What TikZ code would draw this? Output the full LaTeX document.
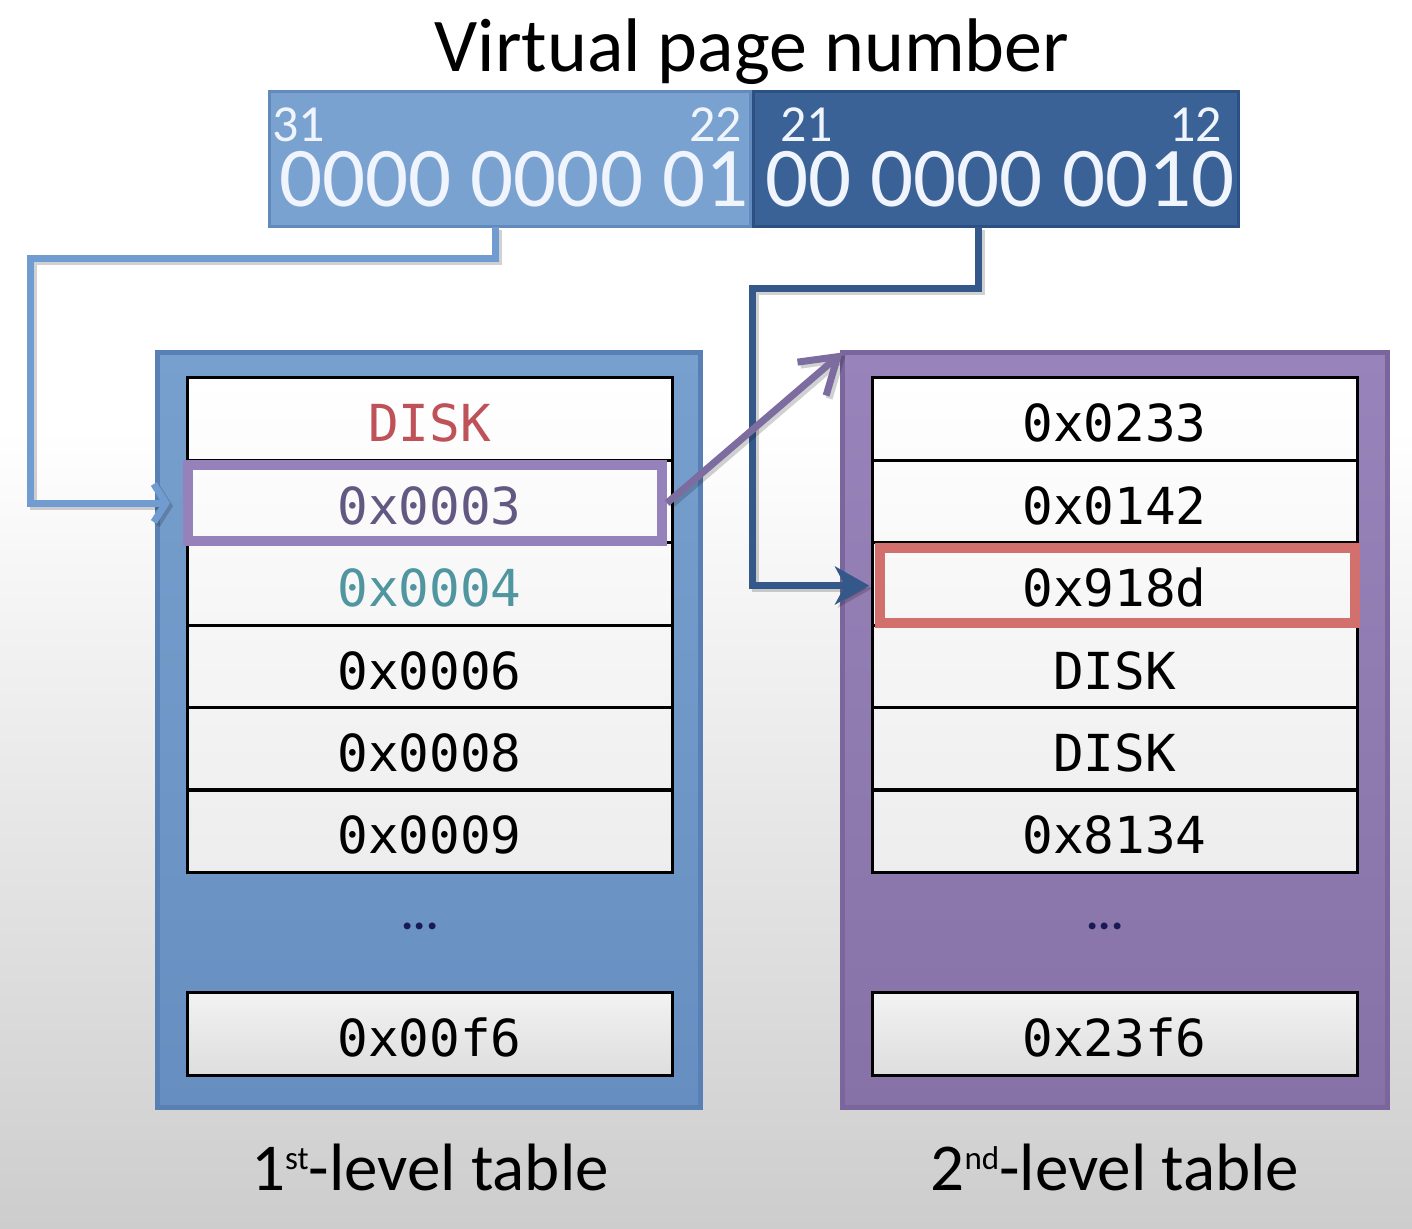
\documentclass[tikz,border=0pt]{standalone}
\usepackage{fontspec}
\setmainfont{Carlito}
\newfontfamily\monofont{DejaVu Sans Mono}
\usetikzlibrary{arrows.meta,calc}
\definecolor{bgbot}{RGB}{205,205,205}
\definecolor{hifill}{RGB}{122,162,208}
\definecolor{hidraw}{RGB}{98,138,188}
\definecolor{lofill}{RGB}{58,98,150}
\definecolor{lodraw}{RGB}{45,80,130}
\definecolor{bitwhite}{RGB}{240,244,252}
\definecolor{tonetop}{RGB}{120,160,206}
\definecolor{tonebot}{RGB}{102,142,192}
\definecolor{tonedraw}{RGB}{88,128,180}
\definecolor{ttwotop}{RGB}{152,132,186}
\definecolor{ttwobot}{RGB}{134,114,166}
\definecolor{ttwodraw}{RGB}{122,102,156}
\definecolor{hlpurple}{RGB}{150,130,186}
\definecolor{hlred}{RGB}{210,112,110}
\definecolor{diskred}{RGB}{190,82,88}
\definecolor{txtpurple}{RGB}{98,88,130}
\definecolor{txtteal}{RGB}{80,150,160}
\definecolor{connlight}{RGB}{112,156,210}
\definecolor{conndark}{RGB}{52,88,138}
\definecolor{connpurple}{RGB}{124,108,160}
\definecolor{dotnavy}{RGB}{25,25,85}
\begin{document}
\begin{tikzpicture}[x=1pt,y=-1pt,
  entry/.style={draw=black, line width=3pt, minimum width=485pt, minimum height=82.3pt,
    inner sep=0pt, outer sep=0pt, text height=45pt, text depth=0pt,
    font=\monofont\fontsize{51}{55}\selectfont},
  tablebox/.style={line width=5pt, inner sep=0pt, outer sep=0pt},
  hlbox/.style={line width=10pt, inner sep=0pt, outer sep=0pt},
  smallnum/.style={inner sep=0pt, text=bitwhite, font=\fontsize{52}{55}\selectfont},
  bignum/.style={inner sep=0pt, text=bitwhite, font=\fontsize{85}{88}\selectfont},
  dots/.style={inner sep=0pt, text=dotnavy, font=\bfseries\fontsize{46}{50}\selectfont},
  caption/.style={inner sep=0pt, font=\fontsize{67}{70}\selectfont},
  conn/.style={line width=7pt, line join=miter},
  shadowed/.style={black, opacity=0.18, transform canvas={xshift=3pt,yshift=-3pt}},
  tipbarb/.style={-{Straight Barb[length=12pt,width=38pt]}},
  tipsolid/.style={-{Stealth[length=34pt,width=38pt,inset=10pt]}},
  tipopen/.style={-{Straight Barb[length=34pt,width=44pt]}}
]
\useasboundingbox (0,0) rectangle (1412,1228);
\fill[white] (0,0) rectangle (1412,1228);
\shade[top color=white, bottom color=bgbot] (0,430) rectangle (1412,1228);

% title
\node[inner sep=0pt, anchor=base, font=\fontsize{76}{80}\selectfont] (title) at (752,72) {Virtual page number};

% virtual page number bar
\node[fill=hifill, draw=hidraw, line width=3pt, inner sep=0pt, outer sep=0pt,
      minimum width=481pt, minimum height=135pt] (hi) at (510,159) {};
\node[fill=lofill, draw=lodraw, line width=3pt, inner sep=0pt, outer sep=0pt,
      minimum width=485pt, minimum height=135pt] (lo) at (996,159) {};
\node[smallnum, anchor=base west] (b31) at (272,141) {31};
\node[smallnum, anchor=base east] (b22) at (742,141) {22};
\node[smallnum, anchor=base west] (b21) at (780,141) {21};
\node[smallnum, anchor=base east] (b12) at (1222,141) {12};
\node[bignum, anchor=base west] (bitshi) at (279,206) {0000 0000 01};
\node[bignum, anchor=base west] (bitslo) at (765,206) {00 0000 0010};

% tables
\node[tablebox, draw=tonedraw, top color=tonetop, bottom color=tonebot,
      minimum width=543pt, minimum height=755pt] (t1) at (429,730) {};
\node[tablebox, draw=ttwodraw, top color=ttwotop, bottom color=ttwobot,
      minimum width=545pt, minimum height=755pt] (t2) at (1115,730) {};

% row backgrounds
\shade[top color=white, bottom color=black!7] (187,378) rectangle (672,872);
\shade[top color=black!5, bottom color=black!13] (187,992) rectangle (672,1075);
\shade[top color=white, bottom color=black!7] (872,378) rectangle (1357,872);
\shade[top color=black!5, bottom color=black!13] (872,992) rectangle (1357,1075);

% first-level entries
\node[entry, text=diskred] (a1) at (429.5,419) {DISK};
\node[entry, text=txtpurple] (a2) at (429.5,501.5) {0x0003};
\node[entry, text=txtteal] (a3) at (429.5,584) {0x0004};
\node[entry] (a4) at (429.5,666.5) {0x0006};
\node[entry] (a5) at (429.5,749) {0x0008};
\node[entry] (a6) at (429.5,831) {0x0009};
\node[dots] (adots) at (420,926) {...};
\node[entry, minimum height=83pt] (a7) at (429.5,1033.5) {0x00f6};

% second-level entries
\node[entry] (b1) at (1114.5,419) {0x0233};
\node[entry] (b2) at (1114.5,501.5) {0x0142};
\node[entry] (b3) at (1114.5,584) {0x918d};
\node[entry] (b4) at (1114.5,666.5) {DISK};
\node[entry] (b5) at (1114.5,749) {DISK};
\node[entry] (b6) at (1114.5,831) {0x8134};
\node[dots] (bdots) at (1105,926) {...};
\node[entry, minimum height=83pt] (b7) at (1114.5,1033.5) {0x23f6};

% highlights
\node[hlbox, draw=hlpurple, minimum width=474pt, minimum height=76pt] (hl1) at (425,503) {};
\node[hlbox, draw=hlred, minimum width=475pt, minimum height=75pt] (hl2) at (1117.5,585.5) {};

% connectors (soft shadows first)
\draw[conn, shadowed, tipbarb]
  ([xshift=-15pt]hi.south) |- (30,258) |- ([xshift=-18pt]hl1.west);
\draw[conn, draw=connlight, tipbarb]
  ([xshift=-15pt]hi.south) |- (30,258) |- ([xshift=-18pt]hl1.west);
\draw[conn, shadowed, tipsolid]
  ([xshift=-18pt]lo.south) |- (752,288) |- ([xshift=-11pt]hl2.west);
\draw[conn, draw=conndark, tipsolid]
  ([xshift=-18pt]lo.south) |- (752,288) |- ([xshift=-11pt]hl2.west);
\draw[line width=7pt, shadowed, tipopen]
  ([xshift=5pt]hl1.east) -- (t2.north west);
\draw[line width=7pt, draw=connpurple, tipopen]
  ([xshift=5pt]hl1.east) -- (t2.north west);

% captions
\node[caption, anchor=base] (lab1) at (430,1190)
  {1\raisebox{21pt}{\fontsize{33}{33}\selectfont st}-level table};
\node[caption, anchor=base] (lab2) at (1115,1190)
  {2\raisebox{21pt}{\fontsize{33}{33}\selectfont nd}-level table};
\end{tikzpicture}
\end{document}
